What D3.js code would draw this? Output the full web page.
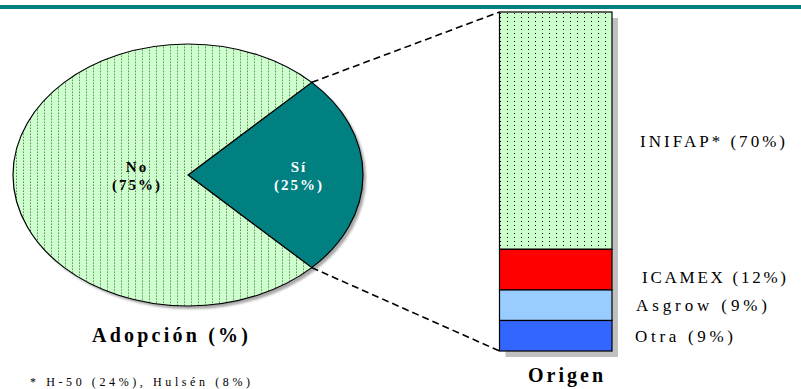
<!DOCTYPE html>
<html>
<head>
<meta charset="utf-8">
<script src="https://cdn.jsdelivr.net/npm/d3@7"></script>
<style>
  html, body { margin: 0; padding: 0; background: #fff; }
  svg { display: block; }
</style>
</head>
<body>
<svg id="chart" width="801" height="389"></svg>
<script>
// ---- data ----
const pieCategories = ["Sí", "No"];
const pieValues = [25, 75];
const pieLabelText = ["(25%)", "(75%)"];

const barCategories = ["INIFAP*", "ICAMEX", "Asgrow", "Otra"];
const barValues = [70, 12, 9, 9];

const pieTitle = "Adopción (%)";
const barTitle = "Origen";
const footnote = "* H-50 (24%), Hulsén (8%)";

// ---- layout ----
const FONT = "Liberation Serif";
const svg = d3.select("#chart");
const W = 801, H = 389;
svg.append("rect").attr("width", W).attr("height", H).attr("fill", "#fff");

// top teal rule
svg.append("rect").attr("x", 0).attr("y", 5).attr("width", W).attr("height", 4).attr("fill", "#008080");

// dotted pattern
const defs = svg.append("defs");
const pat = defs.append("pattern").attr("id", "dots").attr("patternUnits", "userSpaceOnUse")
  .attr("width", 7).attr("height", 4);
pat.append("rect").attr("width", 7).attr("height", 4).attr("fill", "#ccffcc");
pat.append("rect").attr("x", 3).attr("y", 1).attr("width", 1).attr("height", 1).attr("fill", "#000");

const blur = defs.append("filter").attr("id", "blur").attr("x", "-10%").attr("y", "-10%").attr("width", "120%").attr("height", "120%");
blur.append("feGaussianBlur").attr("stdDeviation", 1.2);

// ---- pie (tilted ellipse) ----
const cx = 188, cy = 175, rx = 175, ry = 131;
const sy = ry / rx;
const pie = d3.pie().sort(null).value(d => d).startAngle(Math.PI / 4).endAngle(Math.PI / 4 + 2 * Math.PI);
const arcs = pie(pieValues);
const arc = d3.arc().innerRadius(0).outerRadius(rx);

const pieG = svg.append("g");
pieG.append("ellipse").attr("cx", cx + 3).attr("cy", cy + 3).attr("rx", rx).attr("ry", ry)
  .attr("fill", "#a8a8a8").attr("filter", "url(#blur)");
const sliceFills = ["#008080", "url(#dots)"];
const pieInner = pieG.append("g").attr("transform", `translate(${cx},${cy}) scale(1,${sy})`);
pieInner.selectAll("path").data(arcs).join("path")
  .attr("d", arc)
  .attr("fill", (d, i) => sliceFills[i])
  .attr("stroke", "#000")
  .attr("stroke-width", 1.2)
  .attr("vector-effect", "non-scaling-stroke");

// pie labels
const labelRadius = [111, 51];
const labelColor = ["#ffffff", "#000000"];
arcs.forEach((d, i) => {
  const a = (d.startAngle + d.endAngle) / 2;
  const lx = cx + labelRadius[i] * Math.sin(a);
  const ly = cy;
  const t = svg.append("text").attr("x", lx).attr("text-anchor", "middle")
    .attr("font-family", FONT)
    .attr("font-size", 15).attr("font-weight", "bold").attr("fill", labelColor[i])
    .attr("letter-spacing", 2);
  t.append("tspan").attr("x", lx).attr("y", ly - 3).text(pieCategories[i]);
  t.append("tspan").attr("x", lx).attr("y", ly + 15).text(pieLabelText[i]);
});

// ---- stacked bar (first category at top) ----
const bx0 = 499.5, bw = 112.5;
const total = d3.sum(barValues);
const yS = d3.scaleLinear().domain([0, total]).range([12, 351]);
let cum = 0;
const segs = barValues.map((v, i) => {
  const s = { cat: barCategories[i], v, y0: cum, y1: cum + v };
  cum += v;
  return s;
});
const barFills = ["url(#dots)", "#ff0000", "#99ccff", "#3366ff"];
svg.append("rect").attr("x", bx0 + 6).attr("y", yS(0) + 6).attr("width", bw).attr("height", yS(total) - yS(0))
  .attr("fill", "#c0c0c0");
svg.selectAll("rect.seg").data(segs).join("rect").attr("class", "seg")
  .attr("x", bx0).attr("width", bw)
  .attr("y", d => yS(d.y0)).attr("height", d => yS(d.y1) - yS(d.y0))
  .attr("fill", (d, i) => barFills[i])
  .attr("stroke", "#000").attr("stroke-width", 1.2);

// bar labels
const labelOffsets = [16, 13, 6, 6];
const labelX = [640, 642, 636, 635];
const labelW = [145, 144, 131, 98];
segs.forEach((d, i) => {
  const mid = (yS(d.y0) + yS(d.y1)) / 2;
  svg.append("text").attr("x", labelX[i]).attr("y", mid + labelOffsets[i])
    .attr("font-family", FONT)
    .attr("font-size", 17).attr("fill", "#000")
    .attr("textLength", labelW[i]).attr("lengthAdjust", "spacing")
    .text(`${d.cat} (${d.v}%)`);
});

// ---- connector dashed lines ----
const pA = arcs[0];
const ptTop = [cx + rx * Math.sin(pA.startAngle), cy - rx * Math.cos(pA.startAngle) * sy];
const ptBot = [cx + rx * Math.sin(pA.endAngle), cy - rx * Math.cos(pA.endAngle) * sy];
const lineGen = d3.line();
svg.append("path").attr("d", lineGen([ptTop, [bx0, yS(0)]]))
  .attr("stroke", "#000").attr("stroke-width", 1.6).attr("stroke-dasharray", "7,4").attr("fill", "none");
svg.append("path").attr("d", lineGen([ptBot, [bx0, yS(total)]]))
  .attr("stroke", "#000").attr("stroke-width", 1.6).attr("stroke-dasharray", "7,4").attr("fill", "none");

// ---- titles ----
svg.append("text").attr("x", 92).attr("y", 342).attr("font-family", FONT).attr("font-size", 20).attr("font-weight", "bold")
  .attr("textLength", 156).attr("lengthAdjust", "spacing").text(pieTitle);
svg.append("text").attr("x", 528).attr("y", 382).attr("font-family", FONT).attr("font-size", 20).attr("font-weight", "bold")
  .attr("textLength", 75).attr("lengthAdjust", "spacing").text(barTitle);

// footnote
svg.append("text").attr("x", 30).attr("y", 386).attr("font-family", FONT).attr("font-size", 12)
  .attr("textLength", 220).attr("lengthAdjust", "spacing").attr("fill", "#000").text(footnote);
</script>
</body>
</html>
